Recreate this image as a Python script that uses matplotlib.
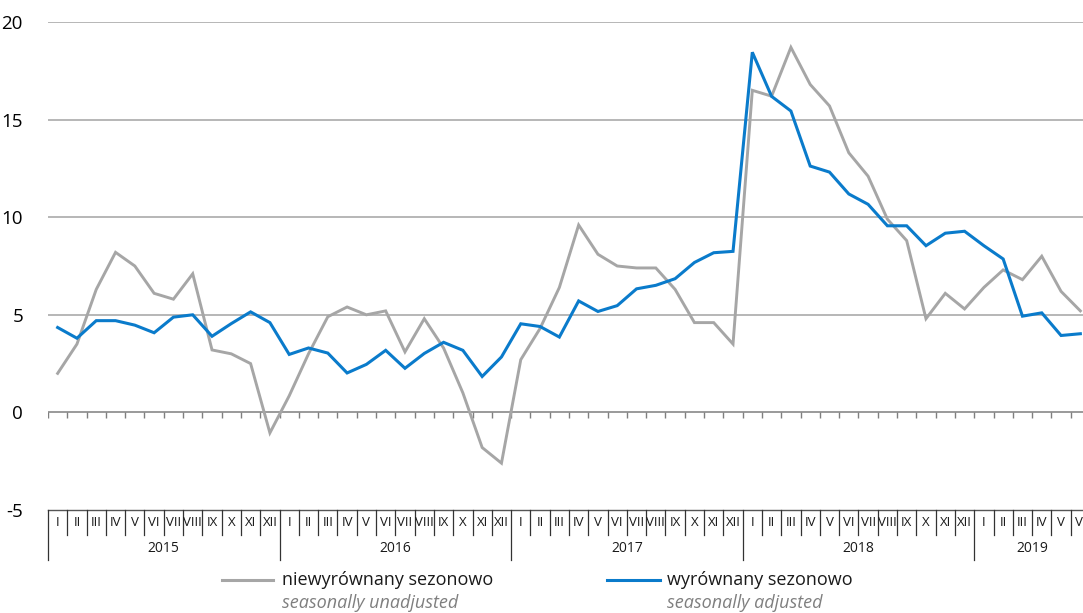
import matplotlib
matplotlib.use("Agg")
import matplotlib.pyplot as plt
from matplotlib.lines import Line2D
import numpy as np

plt.rcParams['font.family'] = ['Open Sans', 'DejaVu Sans']

months = ["I", "II", "III", "IV", "V", "VI", "VII", "VIII", "IX", "X", "XI", "XII"]
years = ["2015", "2016", "2017", "2018", "2019"]
n_months_last_year = 6

unadjusted = [
    2.0, 3.5, 6.3, 8.2, 7.5, 6.1, 5.8, 7.1, 3.2, 3.0, 2.5, -1.05,
    0.85, 3.0, 4.9, 5.4, 5.0, 5.2, 3.1, 4.8, 3.3, 1.0, -1.8, -2.6,
    2.7, 4.3, 6.4, 9.6, 8.1, 7.5, 7.4, 7.4, 6.3, 4.6, 4.6, 3.5,
    16.5, 16.2, 18.7, 16.8, 15.7, 13.3, 12.1, 9.9, 8.8, 4.8, 6.1, 5.3,
    6.4, 7.3, 6.8, 8.0, 6.2, 5.2,
]
adjusted = [
    4.35, 3.8, 4.7, 4.7, 4.47, 4.08, 4.88, 5.0, 3.9, 4.55, 5.15, 4.6,
    2.97, 3.3, 3.04, 2.02, 2.46, 3.18, 2.26, 3.02, 3.59, 3.18, 1.84, 2.84,
    4.54, 4.4, 3.86, 5.71, 5.17, 5.47, 6.33, 6.51, 6.85, 7.68, 8.18, 8.25,
    18.45, 16.19, 15.44, 12.62, 12.31, 11.19, 10.66, 9.56, 9.56, 8.54, 9.18, 9.28,
    8.54, 7.86, 4.93, 5.1, 3.94, 4.03,
]
yticks = [-5, 0, 5, 10, 15, 20]
legend_pl = ["niewyrównany sezonowo", "wyrównany sezonowo"]
legend_en = ["seasonally unadjusted", "seasonally adjusted"]

W, H = 1083, 613
fig = plt.figure(figsize=(W / 100, H / 100), dpi=100)
left_px, right_px, top_px, bot_px = 48, 1090, 22, 510
ax = fig.add_axes([left_px / W, (H - bot_px) / H, (right_px - left_px) / W, (bot_px - top_px) / H])

n = len(unadjusted)
x = np.arange(n)
gray = "#a6a6a6"
blue = "#0a7bcb"

for v in [5, 10, 15, 20]:
    ax.axhline(v, color="#a3a3a3", lw=1.1, zorder=1)
ax.axhline(0, color="#7f7f7f", lw=1.1, zorder=1)
bounds = np.arange(n + 1) - 0.5
ax.vlines(bounds, -0.27, 0, color="#7f7f7f", lw=1.0, zorder=1)

ax.plot(x, unadjusted, color=gray, lw=2.1, zorder=2, solid_joinstyle="miter")
ax.plot(x, adjusted, color=blue, lw=2.2, zorder=3, solid_joinstyle="miter")

ax.set_xlim(-0.5, n - 0.5)
ax.set_ylim(-5, 20)
ax.set_yticks(yticks)
ax.set_yticklabels([str(t) for t in yticks], fontsize=13.5)
ax.tick_params(axis="y", length=0, pad=18)
ax.set_xticks([])
for s in ax.spines.values():
    s.set_visible(False)

# category table below
trans = ax.get_xaxis_transform()
ph = bot_px - top_px
def yax(py):
    return -(py - bot_px) / ph

line_col = "#555555"
ax.plot([-0.5, n - 0.5], [0, 0], transform=trans, color=line_col, lw=1.0, clip_on=False)
for i, b in enumerate(bounds[:-1]):
    is_year = (i % 12 == 0)
    ax.plot([b, b], [0, yax(560 if is_year else 535)], transform=trans,
            color="#333333", lw=0.9, clip_on=False)
for i in range(n):
    ax.text(i, yax(523), months[i % 12], transform=trans, ha="center", va="center",
            fontsize=9.5, color="#1a1a1a", clip_on=False)
for k, yr in enumerate(years):
    start = k * 12
    end = min(start + 12, n)
    ax.text((start + end - 1) / 2, yax(549), yr, transform=trans, ha="center",
            va="center", fontsize=10, color="#1a1a1a", clip_on=False)

# legend
def fx(px):
    return px / W
def fy(py):
    return (H - py) / H

for (lx0, lx1, tx, col, pl, en) in [(222, 273, 282, gray, legend_pl[0], legend_en[0]),
                                     (607, 660, 667, blue, legend_pl[1], legend_en[1])]:
    fig.add_artist(Line2D([fx(lx0), fx(lx1)], [fy(580), fy(580)], color=col, lw=2.2,
                          transform=fig.transFigure))
    fig.text(fx(tx), fy(580), pl, fontsize=13, va="center", ha="left", color="#1a1a1a")
    fig.text(fx(tx), fy(603), en, fontsize=13, va="center", ha="left", color="#7f7f7f",
             style="italic")

fig.savefig("out.png", dpi=100)
